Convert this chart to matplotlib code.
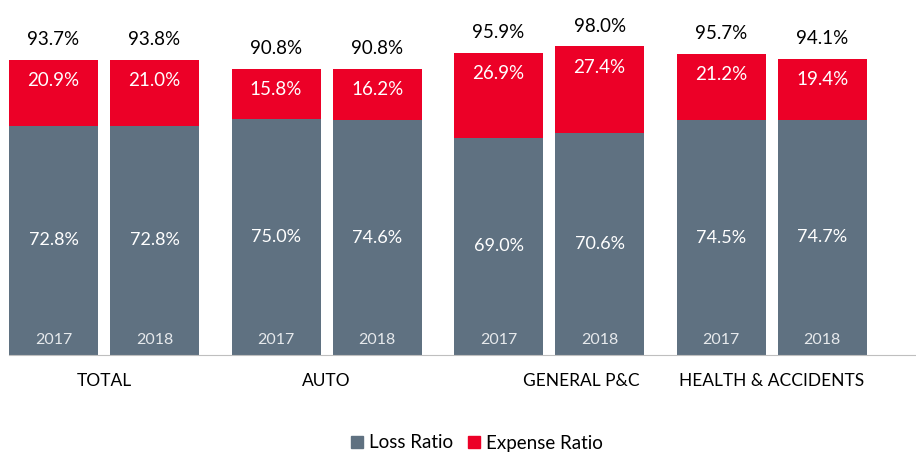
import matplotlib.pyplot as plt
import numpy as np
from matplotlib.patches import Patch

plt.rcParams['font.family'] = ['Lato', 'DejaVu Sans']

categories = ['TOTAL', 'AUTO', 'GENERAL P&C', 'HEALTH & ACCIDENTS']
years = ['2017', '2018']
loss_2017 = [72.8, 75.0, 69.0, 74.5]
loss_2018 = [72.8, 74.6, 70.6, 74.7]
expense_2017 = [20.9, 15.8, 26.9, 21.2]
expense_2018 = [21.0, 16.2, 27.4, 19.4]
combined_2017 = [93.7, 90.8, 95.9, 95.7]
combined_2018 = [93.8, 90.8, 98.0, 94.1]

gray = '#5F7181'
red = '#EC0027'

fig = plt.figure(figsize=(9.16, 4.55), dpi=100)
ax = fig.add_axes([9 / 916, 100 / 455, 906 / 916, 355 / 455])

centers = np.arange(len(categories)) * 2.5
offset = 0.5675
w = 1.0

series = [
    (years[0], centers - offset, loss_2017, expense_2017, combined_2017),
    (years[1], centers + offset, loss_2018, expense_2018, combined_2018),
]

for yr, xs, loss, exp, comb in series:
    ax.bar(xs, loss, width=w, color=gray)
    ax.bar(xs, exp, width=w, bottom=loss, color=red)
    for x, l, e, c in zip(xs, loss, exp, comb):
        ax.text(x, l / 2, f'{l:.1f}%', ha='center', va='center',
                color='white', fontsize=13)
        ax.annotate(f'{e:.1f}%', (x, l + e), xytext=(0, -15),
                    textcoords='offset points', ha='center', va='center',
                    color='white', fontsize=13.5)
        ax.annotate(f'{c:.1f}%', (x, l + e), xytext=(0, 14.5),
                    textcoords='offset points', ha='center', va='center',
                    color='black', fontsize=13.5)
        ax.annotate(yr, (x, 0), xytext=(0, 10.5),
                    textcoords='offset points', ha='center', va='center',
                    color='#E6E9EC', fontsize=11.5)

# category labels (GENERAL P&C sits a bit right in the original)
label_shift = [0, 0, 0.36, 0]
for c, name, dx in zip(centers, categories, label_shift):
    ax.text(c + dx, -26 / 355, name, transform=ax.get_xaxis_transform(),
            ha='center', va='center', fontsize=12.5, color='black')

ax.set_xlim(-1.0675, 9.11)
ax.set_ylim(0, 112.7)
for s in ['top', 'right', 'left']:
    ax.spines[s].set_visible(False)
ax.spines['bottom'].set_color('#BFBFBF')
ax.set_xticks([])
ax.set_yticks([])

handles = [Patch(color=gray, label='Loss Ratio'),
           Patch(color=red, label='Expense Ratio')]
fig.legend(handles=handles, loc='center', bbox_to_anchor=(477 / 916, 1 - 443 / 455),
           ncol=2, frameon=False, fontsize=13.5, handlelength=0.65,
           handleheight=0.65, handletextpad=0.3, columnspacing=0.8)

fig.savefig('out.png', dpi=100)
